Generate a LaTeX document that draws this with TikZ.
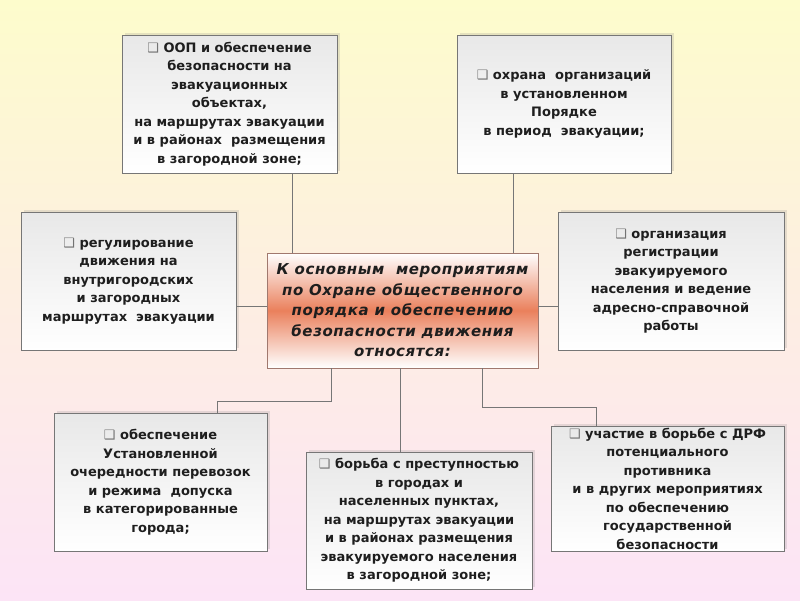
\documentclass[tikz,border=0pt]{standalone}
\usepackage{fontspec}
\setmainfont{DejaVu Sans}
\newfontfamily\boxfont{DejaVu Sans}
\newfontfamily\centfont[LetterSpace=4]{DejaVu Sans}
\newfontfamily\symfont{DejaVu Sans}
\usetikzlibrary{shadows}
\definecolor{bgtop}{RGB}{253,252,204}
\definecolor{bgmid}{RGB}{253,238,226}
\definecolor{bgbot}{RGB}{252,228,246}
\definecolor{salmon}{RGB}{234,128,92}
\definecolor{edge}{RGB}{118,118,118}
\definecolor{cedge}{RGB}{160,120,110}
\definecolor{txt}{RGB}{30,30,30}
\newcommand{\bul}{{\symfont\color{black!55}\fontsize{13}{13}\selectfont ❑}\ }
\begin{document}
\begin{tikzpicture}[x=1pt,y=-1pt,
  box/.style={draw=edge, line width=0.8pt, top color=black!9, bottom color=white,
    drop shadow={opacity=0.2, shadow xshift=2.5pt, shadow yshift=2.5pt},
    align=center, font=\boxfont\bfseries\fontsize{13}{18.5}\selectfont, text=txt, inner sep=0pt},
  centbox/.style={draw=cedge, line width=0.8pt, top color=white, bottom color=white, middle color=salmon,
    align=center, font=\centfont\bfseries\itshape\fontsize{15}{20.5}\selectfont, text=txt, inner sep=0pt},
  link/.style={draw=edge, line width=0.8pt}]
\fill[top color=bgtop, bottom color=bgbot, middle color=bgmid] (0,0) rectangle (800,600);
\useasboundingbox (0,0) rectangle (800,600);

\node[box, minimum width=215pt, minimum height=138pt] (b1) at (229.5,104)
  {\bul ООП и обеспечение\\ безопасности на\\ эвакуационных\\ объектах,\\ на маршрутах эвакуации\\ и в районах~ размещения\\ в загородной зоне;};
\node[box, minimum width=214pt, minimum height=138pt] (b2) at (564,104)
  {\bul охрана~ организаций\\ в установленном\\ Порядке\\ в период~ эвакуации;};
\node[box, minimum width=215pt, minimum height=138pt] (b3) at (128.5,281)
  {\bul регулирование\\ движения на\\ внутригородских\\ и загородных\\ маршрутах~ эвакуации};
\node[box, minimum width=226pt, minimum height=138pt] (b4) at (671,281)
  {\bul организация\\ регистрации\\ эвакуируемого\\ населения и ведение\\ адресно-справочной\\ работы};
\node[centbox, minimum width=271pt, minimum height=115pt] (c) at (402.5,310.5)
  {К основным~ мероприятиям\\ по Охране общественного\\ порядка и обеспечению\\ безопасности движения\\ относятся:};
\node[box, minimum width=213pt, minimum height=138pt] (b5) at (160.5,482)
  {\bul обеспечение\\ Установленной\\ очередности перевозок\\ и режима~ допуска\\ в категорированные\\ города;};
\node[box, minimum width=226pt, minimum height=137pt] (b6) at (419,520.5)
  {\bul борьба с преступностью\\ в городах и\\ населенных пунктах,\\ на маршрутах эвакуации\\ и в районах размещения\\ эвакуируемого населения\\ в загородной зоне;};
\node[box, minimum width=233pt, minimum height=125pt] (b7) at (667.5,488.5)
  {\bul участие в борьбе с ДРФ\\ потенциального\\ противника\\ и в других мероприятиях\\ по обеспечению\\ государственной\\ безопасности};

\draw[link] (292,0 |- b1.south) -- (292,0 |- c.north);
\draw[link] (513,0 |- b2.south) -- (513,0 |- c.north);
\draw[link] (b3.east |- 0,306) -- (c.west |- 0,306);
\draw[link] (c.east |- 0,306) -- (b4.west |- 0,306);
\draw[link] (331,0 |- c.south) -- (331,401) -- (217,401) -- (217,0 |- b5.north);
\draw[link] (400,0 |- c.south) -- (400,0 |- b6.north);
\draw[link] (482,0 |- c.south) -- (482,407) -- (596,407) -- (596,0 |- b7.north);
\end{tikzpicture}
\end{document}
